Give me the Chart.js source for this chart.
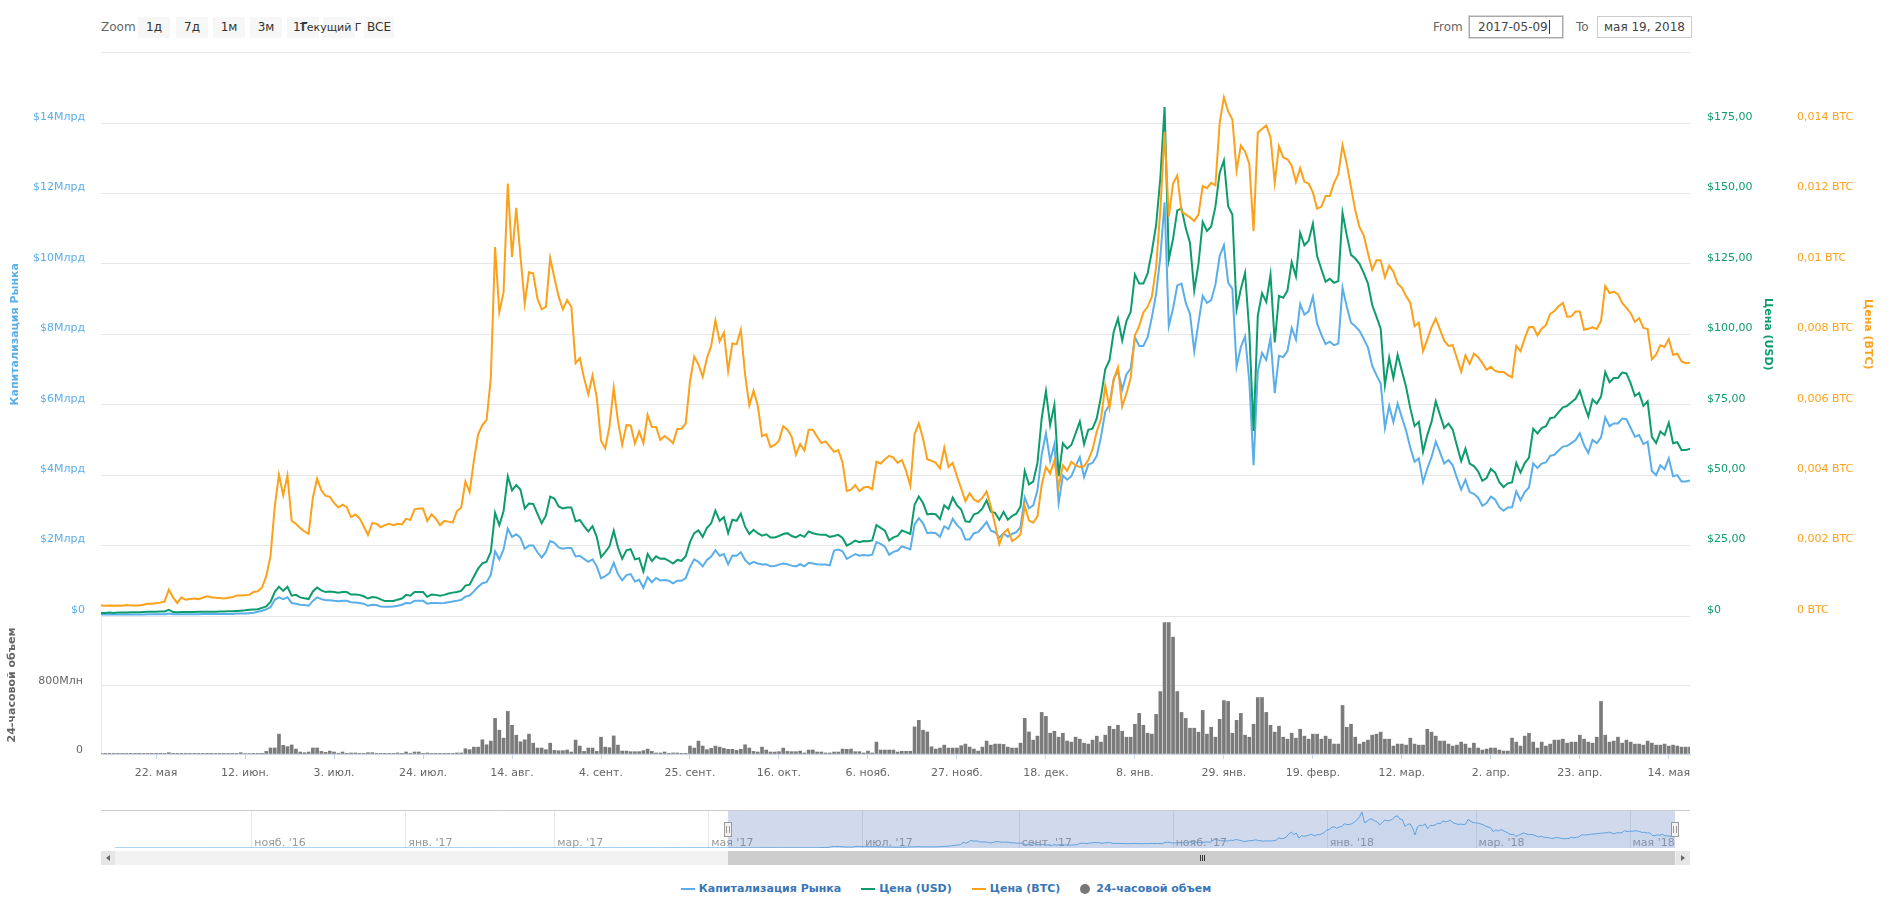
<!DOCTYPE html>
<html>
<head>
<meta charset="utf-8">
<script src="https://cdn.jsdelivr.net/npm/chart.js@4.4.0/dist/chart.umd.min.js"></script>
<style>
  body { margin: 0; background: #fff; width: 1892px; height: 902px; overflow: hidden; position: relative; font-family: "DejaVu Sans", Verdana, sans-serif; }
  canvas { position: absolute; left: 0; }
  .lbl { position: absolute; font-size: 12px; color: #666; line-height: 22px; }
  .btn { position: absolute; top: 17px; width: 32px; height: 21px; background: #f7f7f7; color: #333; font-size: 12px; line-height: 21px; text-align: center; white-space: nowrap; }
  .box { position: absolute; top: 16px; height: 22px; box-sizing: border-box; font-size: 12px; line-height: 20px; color: #444; background: #fff; white-space: nowrap; }
  #legend { position: absolute; top: 881px; left: 0; width: 1892px; display: flex; justify-content: center; font-size: 11px; font-weight: bold; color: #3a76b6; line-height: 16px; }
  #legend span.item { display: flex; align-items: center; margin: 0 10px; }
  #legend i { display: inline-block; width: 14px; height: 2px; margin-right: 4px; }
  #legend i.dot { width: 10px; height: 10px; border-radius: 5px; margin-right: 6px; }
</style>
</head>
<body>

<div class="lbl" style="left:101px;top:16px">Zoom</div>
<div class="btn" style="left:138px">1д</div>
<div class="btn" style="left:176px">7д</div>
<div class="btn" style="left:213px">1м</div>
<div class="btn" style="left:250px">3м</div>
<div class="btn" style="left:287px;text-align:left;text-indent:6px">1Г</div>
<div class="btn" style="left:323px"></div>
<div class="btn" style="left:300px;width:auto;background:none;font-size:11px">Текущий Г</div>
<div class="btn" style="left:364px;width:30px">ВСЕ</div>

<div class="lbl" style="left:1433px;top:16px">From</div>
<div class="box" style="left:1469px;width:94px;border:1px solid #a9a9a9;box-shadow:0 0 0 1px #d6d6d6;padding-left:8px">2017-05-09<span style="border-left:1px solid #333;margin-left:1px"></span></div>
<div class="lbl" style="left:1576px;top:16px">To</div>
<div class="box" style="left:1597px;width:95px;border:1px solid #cccccc;text-align:center">мая 19, 2018</div>

<canvas id="mainChart" width="1892" height="590" style="top:40px"></canvas>
<canvas id="volChart" width="1892" height="181" style="top:609px"></canvas>
<canvas id="navChart" width="1892" height="62" style="top:806px"></canvas>

<div id="legend">
  <span class="item"><i style="background:#5aaee9"></i>Капитализация Рынка</span>
  <span class="item"><i style="background:#0e9c6d"></i>Цена (USD)</span>
  <span class="item"><i style="background:#fca11b"></i>Цена (BTC)</span>
  <span class="item"><i class="dot" style="background:#777"></i>24-часовой объем</span>
</div>

<script>
// one value per day, day 0 = 9 May 2017, last = 19 May 2018
const capB = [
  0.04,0.04,0.04,0.04,0.04,0.04,0.04,0.04,0.04,0.04,
  0.04,0.05,0.05,0.05,0.05,0.05,0.07,0.05,0.05,0.05,
  0.05,0.05,0.05,0.05,0.06,0.06,0.06,0.06,0.06,0.06,
  0.06,0.06,0.07,0.07,0.07,0.08,0.09,0.12,0.15,0.19,
  0.25,0.46,0.53,0.48,0.53,0.37,0.35,0.32,0.31,0.29,
  0.43,0.53,0.48,0.45,0.45,0.43,0.42,0.43,0.43,0.39,
  0.38,0.37,0.35,0.29,0.32,0.31,0.27,0.26,0.26,0.27,
  0.29,0.32,0.37,0.36,0.43,0.43,0.43,0.35,0.37,0.37,
  0.36,0.37,0.39,0.41,0.43,0.46,0.55,0.58,0.70,0.83,
  0.93,0.96,1.17,1.84,1.61,1.89,2.48,2.25,2.32,2.22,
  1.91,2.00,2.00,1.81,1.66,1.82,2.13,2.08,1.95,1.91,
  1.93,1.93,1.69,1.71,1.62,1.54,1.61,1.41,1.07,1.13,
  1.22,1.51,1.19,1.01,1.16,1.19,0.98,1.03,0.80,1.10,
  0.96,1.08,1.01,1.02,1.00,0.93,1.00,1.00,1.08,1.39,
  1.61,1.54,1.41,1.59,1.69,1.87,1.71,1.76,1.47,1.72,
  1.71,1.81,1.59,1.47,1.54,1.49,1.46,1.47,1.41,1.42,
  1.46,1.49,1.47,1.43,1.41,1.47,1.41,1.51,1.49,1.47,
  1.46,1.46,1.44,1.86,1.89,1.84,1.62,1.69,1.76,1.71,
  1.73,1.72,1.74,2.10,2.05,1.97,1.74,1.82,1.86,1.98,
  1.94,1.89,2.60,2.78,2.63,2.35,2.37,2.35,2.25,2.55,
  2.47,2.76,2.58,2.47,2.17,2.17,2.35,2.38,2.52,2.67,
  2.42,2.38,2.23,2.35,2.25,2.33,2.38,2.52,3.36,3.06,
  3.14,3.57,4.58,5.19,4.41,4.88,3.21,3.99,3.87,3.97,
  4.25,4.51,3.95,4.30,4.35,4.55,5.09,5.80,6.00,6.73,
  6.96,6.43,6.86,7.03,7.92,7.67,7.67,7.92,8.48,9.14,
  10.20,11.75,8.23,8.73,9.39,9.44,8.89,8.58,7.52,8.33,
  9.09,8.89,8.97,9.41,10.22,10.53,9.47,9.29,7.08,7.64,
  7.94,6.66,4.28,6.96,7.47,7.27,7.89,6.33,7.39,7.35,
  7.52,8.18,7.85,8.86,8.56,8.65,9.07,8.30,7.99,7.72,
  7.79,7.69,7.74,9.32,8.78,8.33,8.23,8.10,7.87,7.62,
  7.11,6.84,6.61,5.34,5.97,5.51,6.03,5.64,5.26,4.78,
  4.38,4.48,3.80,4.19,4.51,4.95,4.65,4.33,4.43,4.28,
  3.92,3.59,3.87,3.52,3.47,3.36,3.13,3.21,3.39,3.31,
  3.09,2.99,3.08,3.09,3.54,3.29,3.52,3.65,4.33,4.20,
  4.33,4.36,4.55,4.58,4.70,4.81,4.83,4.91,5.00,5.19,
  4.85,4.63,5.00,4.91,5.07,5.64,5.39,5.47,5.47,5.61,
  5.59,5.34,5.09,5.14,4.88,4.95,4.12,4.00,4.28,4.17,
  4.48,3.97,4.00,3.82,3.82,3.85
];

const priceUsd = [
  1.1,1.1,1.2,1.1,1.2,1.2,1.2,1.3,1.3,1.3,
  1.4,1.5,1.5,1.5,1.6,1.6,2.2,1.4,1.3,1.4,
  1.4,1.4,1.4,1.5,1.5,1.5,1.5,1.5,1.6,1.6,
  1.7,1.7,1.8,1.9,2.0,2.2,2.3,2.4,2.9,3.4,
  5.0,8.5,10.4,8.9,10.4,7.2,7.5,6.6,6.3,6.0,
  8.7,10.1,9.1,8.5,8.7,8.5,8.3,8.5,8.5,7.6,
  7.6,7.5,7.0,6.2,6.7,6.6,5.9,5.3,5.3,5.3,
  5.8,6.2,7.5,7.2,8.5,8.5,8.5,6.8,7.6,7.5,
  7.2,7.5,8.0,8.3,8.5,8.9,10.8,11.1,14.0,16.8,
  18.7,19.3,22.8,36.6,32.2,37.2,49.6,44.6,46.5,44.8,
  38.2,39.9,39.8,36.3,32.9,35.7,42.4,41.7,38.9,38.2,
  38.5,38.5,33.6,34.1,31.9,30.0,31.9,28.1,20.9,22.7,
  24.7,30.3,24.3,20.3,23.3,23.7,20.1,20.5,15.8,22.0,
  19.5,21.2,20.3,20.4,19.6,18.6,19.9,19.6,21.2,26.2,
  29.4,30.4,28.1,31.3,32.9,37.4,33.8,35.1,29.4,34.2,
  33.8,36.3,31.7,29.1,30.6,29.4,28.5,29.0,27.9,27.9,
  28.4,29.1,29.4,28.4,27.9,28.8,28.1,30.0,29.4,29.0,
  28.8,28.8,28.1,28.4,28.8,27.7,25.0,25.8,26.8,26.2,
  26.6,26.5,26.8,32.3,31.3,30.3,26.8,27.9,28.4,30.4,
  29.8,29.1,39.5,42.4,40.1,36.1,36.3,36.1,34.4,39.3,
  38.0,42.0,39.3,37.8,33.6,33.4,36.1,36.6,38.2,41.0,
  37.0,36.6,34.2,37.0,34.2,35.5,36.3,38.9,51.5,46.7,
  47.7,54.3,70.2,79.8,67.8,75.0,49.6,61.3,59.4,60.7,
  64.8,69.0,61.0,66.1,66.5,70.2,77.9,87.6,90.8,100.9,
  105.6,97.8,104.7,107.9,121.2,118.0,118.0,121.6,129.4,138.7,
  155.4,180.7,126.5,133.9,144.0,144.6,137.7,132.4,115.5,125.0,
  139.9,136.7,138.3,145.3,157.3,161.7,145.5,142.5,108.9,116.1,
  121.8,100.9,65.7,106.6,114.6,111.5,121.2,97.1,113.6,113.0,
  115.5,125.6,120.6,136.0,131.6,133.2,139.3,127.8,123.1,118.7,
  119.7,118.3,118.9,143.1,135.1,128.2,126.9,125.0,121.8,118.0,
  110.4,106.3,102.0,81.9,91.7,84.5,92.7,87.0,81.3,73.7,
  67.4,68.9,58.3,64.2,68.9,76.2,71.4,66.7,68.3,66.1,
  60.4,55.0,59.4,54.1,53.2,51.3,48.0,49.0,52.2,50.9,
  47.5,45.8,47.1,47.4,54.3,50.9,54.3,56.2,66.5,64.8,
  66.7,67.4,70.2,70.5,72.4,74.1,74.6,75.9,77.1,80.0,
  75.0,70.8,76.9,75.4,77.9,86.6,83.0,84.5,84.5,86.4,
  86.1,82.6,78.1,79.2,74.6,76.2,63.6,61.4,65.5,64.2,
  68.6,61.3,61.7,58.9,58.9,59.4
];

const priceBtc = [
  0.00030,0.00029,0.00030,0.00029,0.00030,0.00029,0.00031,0.00030,0.00030,0.00030,
  0.00032,0.00035,0.00035,0.00036,0.00038,0.00041,0.00075,0.00053,0.00037,0.00053,
  0.00046,0.00048,0.00050,0.00048,0.00052,0.00056,0.00053,0.00052,0.00051,0.00050,
  0.00052,0.00053,0.00058,0.00058,0.00059,0.00060,0.00068,0.00070,0.00081,0.00113,
  0.00170,0.00310,0.00402,0.00343,0.00399,0.00270,0.00262,0.00250,0.00240,0.00233,
  0.00336,0.00390,0.00357,0.00341,0.00339,0.00321,0.00308,0.00316,0.00309,0.00281,
  0.00288,0.00278,0.00255,0.00230,0.00264,0.00262,0.00252,0.00258,0.00262,0.00258,
  0.00262,0.00260,0.00276,0.00273,0.00303,0.00305,0.00305,0.00270,0.00289,0.00277,
  0.00258,0.00270,0.00268,0.00265,0.00298,0.00307,0.00382,0.00352,0.00441,0.00516,
  0.00542,0.00557,0.00676,0.01048,0.00863,0.00919,0.01228,0.01020,0.01159,0.01020,
  0.00887,0.00976,0.00973,0.00901,0.00871,0.00878,0.01017,0.00960,0.00907,0.00871,
  0.00897,0.00878,0.00718,0.00732,0.00676,0.00630,0.00683,0.00620,0.00498,0.00476,
  0.00539,0.00648,0.00554,0.00486,0.00542,0.00541,0.00490,0.00524,0.00491,0.00571,
  0.00537,0.00537,0.00500,0.00511,0.00502,0.00491,0.00531,0.00532,0.00547,0.00666,
  0.00737,0.00714,0.00679,0.00732,0.00767,0.00840,0.00780,0.00805,0.00696,0.00774,
  0.00772,0.00813,0.00686,0.00598,0.00640,0.00597,0.00511,0.00516,0.00480,0.00486,
  0.00498,0.00539,0.00529,0.00509,0.00458,0.00488,0.00470,0.00529,0.00529,0.00509,
  0.00491,0.00496,0.00481,0.00466,0.00471,0.00436,0.00355,0.00359,0.00372,0.00354,
  0.00365,0.00367,0.00360,0.00438,0.00433,0.00445,0.00455,0.00450,0.00435,0.00443,
  0.00412,0.00370,0.00516,0.00547,0.00504,0.00445,0.00441,0.00435,0.00419,0.00478,
  0.00423,0.00435,0.00397,0.00362,0.00326,0.00349,0.00331,0.00324,0.00336,0.00354,
  0.00311,0.00260,0.00204,0.00235,0.00247,0.00213,0.00220,0.00232,0.00313,0.00271,
  0.00265,0.00283,0.00372,0.00423,0.00405,0.00441,0.00367,0.00428,0.00412,0.00438,
  0.00428,0.00423,0.00425,0.00443,0.00473,0.00524,0.00559,0.00654,0.00591,0.00673,
  0.00706,0.00595,0.00632,0.00676,0.00797,0.00823,0.00862,0.00878,0.00907,0.00990,
  0.01152,0.01375,0.01134,0.01228,0.01251,0.01149,0.01140,0.01132,0.01122,0.01140,
  0.01221,0.01215,0.01230,0.01223,0.01400,0.01473,0.01433,0.01410,0.01265,0.01336,
  0.01319,0.01284,0.01093,0.01373,0.01383,0.01393,0.01360,0.01231,0.01334,0.01302,
  0.01297,0.01279,0.01233,0.01272,0.01233,0.01228,0.01203,0.01157,0.01162,0.01193,
  0.01193,0.01230,0.01255,0.01337,0.01284,0.01218,0.01152,0.01104,0.01081,0.01030,
  0.00983,0.01010,0.01010,0.00962,0.00995,0.00978,0.00944,0.00932,0.00909,0.00889,
  0.00823,0.00833,0.00752,0.00785,0.00820,0.00845,0.00813,0.00782,0.00767,0.00769,
  0.00732,0.00694,0.00740,0.00716,0.00745,0.00735,0.00718,0.00699,0.00708,0.00696,
  0.00693,0.00693,0.00684,0.00678,0.00767,0.00752,0.00789,0.00820,0.00821,0.00797,
  0.00816,0.00826,0.00858,0.00866,0.00880,0.00889,0.00850,0.00851,0.00865,0.00865,
  0.00813,0.00816,0.00820,0.00815,0.00838,0.00937,0.00917,0.00921,0.00914,0.00889,
  0.00875,0.00860,0.00835,0.00846,0.00818,0.00815,0.00729,0.00742,0.00769,0.00764,
  0.00787,0.00742,0.00745,0.00723,0.00718,0.00719
];

// 24h volume, millions USD
const volumeM = [
  4,4,4,4,4,4,4,4,4,4,
  4,4,4,4,4,4,15,4,4,4,
  4,4,4,4,4,4,4,4,4,4,
  4,4,4,15,6,6,8,8,8,30,
  70,70,230,100,85,105,57,23,15,23,
  70,70,30,19,34,23,8,23,8,12,
  12,4,4,15,15,4,4,4,4,4,
  12,4,23,4,23,23,4,12,4,4,
  4,4,4,4,12,12,61,50,80,80,
  165,107,150,413,276,184,494,333,218,142,
  165,230,126,69,69,50,126,42,38,38,
  46,23,161,92,30,69,69,30,195,80,
  73,210,103,34,34,27,27,27,38,57,
  30,12,12,23,4,12,12,4,4,92,
  69,150,92,50,65,92,80,65,54,54,
  42,54,107,69,30,23,80,46,23,23,
  27,69,30,27,27,34,12,46,46,23,
  23,12,12,23,23,57,54,57,27,27,
  12,34,12,138,46,46,46,46,23,
  31,31,31,314,390,276,256,84,57,69,
  103,69,69,69,96,115,80,57,34,80,
  150,103,115,115,111,80,69,69,126,413,
  256,161,207,482,436,241,264,195,241,150,
  138,195,172,126,115,161,207,138,218,322,
  287,333,264,195,195,345,471,333,241,230,
  459,724,1524,1524,1355,724,482,413,299,299,
  253,505,230,310,195,402,620,609,241,390,
  471,218,195,345,655,655,482,333,253,322,
  195,172,241,184,287,207,172,230,230,172,
  207,172,115,115,563,310,345,195,115,138,
  161,218,230,253,172,172,92,115,115,103,
  184,115,103,103,287,253,207,150,150,115,
  92,103,138,115,69,126,69,46,57,69,
  69,46,34,34,184,138,92,207,241,138,
  69,138,92,115,161,161,172,126,138,138,
  218,172,138,126,195,609,218,138,150,195,
  126,161,138,115,115,103,150,126,103,103,
  115,92,103,92,80,80,80
];

// navigator history before the selected range (weekly, from day -243)
const capPreB = [
  0.005,0.005,0.005,0.005,0.005,0.005,0.006,0.006,0.006,0.006,
  0.006,0.007,0.007,0.007,0.007,0.008,0.008,0.008,0.009,0.010,
  0.012,0.015,0.015,0.018,0.020,0.020,0.022,0.025,0.025,0.028,
  0.030,0.030,0.035,0.035,0.040
];

const xTickDays = [13,34,55,76,97,118,139,160,181,202,223,244,265,286,307,328,349,370];
const xTickLabels = ['22. мая','12. июн.','3. июл.','24. июл.','14. авг.','4. сент.','25. сент.','16. окт.','6. нояб.',
  '27. нояб.','18. дек.','8. янв.','29. янв.','19. февр.','12. мар.','2. апр.','23. апр.','14. мая'];
const navTickDays = [-189,-128,-69,-8,53,115,176,237,296,357];
const navTickLabels = ["нояб. '16","янв. '17","мар. '17","мая '17","июл. '17","сент. '17","нояб. '17","янв. '18","мар. '18","мая '18"];

const CAP_COLOR = '#5aaee9';
const USD_COLOR = '#0e9c6d';
const BTC_COLOR = '#fca11b';
const LAST_DAY = priceUsd.length - 1;

Chart.defaults.font.family = '"DejaVu Sans", Verdana, sans-serif';
Chart.defaults.font.size = 11;

const pts = arr => arr.map((v, i) => ({x: i, y: v}));
const lineSet = (label, arr, axis, color, order) => ({
  label, data: pts(arr), yAxisID: axis, borderColor: color, borderWidth: 2,
  pointRadius: 0, tension: 0, fill: false, order
});
const titleFont = {size: 11, weight: 'bold'};
// invisible tick marks give the gap between labels and plot
// (ticks.padding would also pad the plot vertically)
const gapGrid = len => ({display: true, drawOnChartArea: false, drawTicks: true, tickLength: len, tickColor: 'rgba(0,0,0,0)'});

new Chart(document.getElementById('mainChart'), {
  type: 'line',
  data: {
    datasets: [
      lineSet('Капитализация Рынка', capB, 'yCap', CAP_COLOR, 3),
      lineSet('Цена (USD)', priceUsd, 'yUsd', USD_COLOR, 2),
      lineSet('Цена (BTC)', priceBtc, 'yBtc', BTC_COLOR, 1)
    ]
  },
  options: {
    responsive: false, animation: false, devicePixelRatio: 1,
    layout: {padding: {top: 12.6, bottom: 14, left: 0, right: 0}},
    plugins: {legend: {display: false}, tooltip: {enabled: false}},
    scales: {
      x: {type: 'linear', min: 0, max: LAST_DAY, display: false},
      yCap: {
        position: 'left', min: 0, max: 16,
        afterFit: s => { s.width = 101; },
        grid: {color: '#e6e6e6', drawTicks: true, tickLength: 16, tickColor: 'rgba(0,0,0,0)'},
        border: {display: false},
        ticks: {stepSize: 2, padding: 0, labelOffset: -6, color: CAP_COLOR,
          callback: v => v === 16 ? '' : (v === 0 ? '$0' : '$' + v + 'Млрд')},
        title: {display: true, text: 'Капитализация Рынка', color: CAP_COLOR, font: titleFont, padding: {top: 9, bottom: 0}}
      },
      yUsd: {
        position: 'right', weight: 0, min: 0, max: 200,
        afterFit: s => { s.width = 100; },
        grid: gapGrid(17),
        border: {display: false},
        ticks: {stepSize: 25, padding: 0, labelOffset: -6, color: USD_COLOR,
          callback: v => v === 200 ? '' : (v === 0 ? '$0' : '$' + v.toFixed(2).replace('.', ','))},
        title: {display: true, text: 'Цена (USD)', color: USD_COLOR, font: titleFont, padding: {top: 15.4, bottom: 0}}
      },
      yBtc: {
        position: 'right', weight: 1, min: 0, max: 0.016,
        afterFit: s => { s.width = 102; },
        grid: gapGrid(7),
        border: {display: false},
        ticks: {stepSize: 0.002, padding: 0, labelOffset: -6, color: BTC_COLOR,
          callback: v => {
            if (Math.abs(v - 0.016) < 1e-9) return '';
            if (v === 0) return '0 BTC';
            return String(+v.toFixed(3)).replace('.', ',') + ' BTC';
          }},
        title: {display: true, text: 'Цена (BTC)', color: BTC_COLOR, font: titleFont, padding: {top: 17.4, bottom: 0}}
      }
    }
  }
});

new Chart(document.getElementById('volChart'), {
  type: 'bar',
  data: {
    datasets: [{
      label: '24-часовой объем', data: pts(volumeM),
      backgroundColor: '#7b7b7b', borderWidth: 0, barThickness: 3
    }]
  },
  options: {
    responsive: false, animation: false, devicePixelRatio: 1,
    layout: {padding: {top: 7, bottom: 0, left: 0, right: 202}},
    plugins: {legend: {display: false}, tooltip: {enabled: false}},
    scales: {
      x: {
        type: 'linear', min: 0, max: LAST_DAY, offset: false,
        afterFit: s => { s.height = 36; },
        afterBuildTicks: s => { s.ticks = xTickDays.map(v => ({value: v})); },
        grid: {drawOnChartArea: false, drawTicks: true, tickLength: 5, color: '#ccd6eb', offset: false},
        border: {display: true, color: '#ccd6eb'},
        ticks: {autoSkip: false, maxRotation: 0, padding: 8, color: '#666',
          callback: v => xTickLabels[xTickDays.indexOf(v)]}
      },
      y: {
        position: 'left', min: 0, max: 1600,
        afterFit: s => { s.width = 101; },
        grid: {color: '#e6e6e6', drawTicks: true, tickLength: 18, tickColor: 'rgba(0,0,0,0)'},
        border: {display: true, color: '#e6e9f0'},
        ticks: {stepSize: 800, padding: 0, labelOffset: -4, color: '#666',
          callback: v => v === 1600 ? '' : (v === 0 ? '0' : '800Млн')},
        title: {display: true, text: '24-часовой объем', color: '#666', font: titleFont, padding: {top: 5.4, bottom: 0}}
      }
    }
  }
});

// navigator: mask, handles, scrollbar, month labels
const navDecor = {
  id: 'navDecor',
  beforeDatasetsDraw(chart) {
    const {ctx, chartArea: a, scales: {x}} = chart;
    ctx.save();
    ctx.strokeStyle = '#e6e6e6';
    ctx.lineWidth = 1;
    navTickDays.forEach(d => {
      const px = Math.round(x.getPixelForValue(d)) + 0.5;
      ctx.beginPath(); ctx.moveTo(px, a.top); ctx.lineTo(px, a.bottom); ctx.stroke();
    });
    ctx.restore();
  },
  afterDraw(chart) {
    const {ctx, chartArea: a, scales: {x}} = chart;
    const x0 = Math.round(x.getPixelForValue(0));
    const x1 = Math.round(x.getPixelForValue(LAST_DAY));
    ctx.save();
    ctx.fillStyle = '#999';
    ctx.font = '11px "DejaVu Sans", Verdana, sans-serif';
    ctx.textAlign = 'left';
    ctx.textBaseline = 'middle';
    navTickDays.forEach((d, i) => ctx.fillText(navTickLabels[i], x.getPixelForValue(d) + 3, a.bottom - 5));

    ctx.fillStyle = 'rgba(102,133,194,0.3)';
    ctx.fillRect(x0, a.top, x1 - x0, a.bottom - a.top);

    ctx.strokeStyle = '#cccccc';
    ctx.lineWidth = 1;
    ctx.beginPath(); ctx.moveTo(101, a.top + 0.5); ctx.lineTo(1690, a.top + 0.5); ctx.stroke();

    [x0, x1].forEach(hx => {
      ctx.fillStyle = '#f2f2f2';
      ctx.strokeStyle = '#999';
      ctx.fillRect(hx - 4, a.top + 12, 8, 15);
      ctx.strokeRect(hx - 3.5, a.top + 12.5, 7, 14);
      ctx.beginPath();
      ctx.moveTo(hx - 1.5, a.top + 16); ctx.lineTo(hx - 1.5, a.top + 23);
      ctx.moveTo(hx + 1.5, a.top + 16); ctx.lineTo(hx + 1.5, a.top + 23);
      ctx.stroke();
    });

    const sy = a.bottom + 3, sh = 14;
    ctx.fillStyle = '#f2f2f2';
    ctx.fillRect(101, sy, 1589, sh);
    ctx.fillStyle = '#cccccc';
    ctx.fillRect(x0, sy, x1 - x0, sh);
    ctx.fillStyle = '#e6e6e6';
    ctx.fillRect(101, sy, 14, sh);
    ctx.fillRect(1676, sy, 14, sh);
    ctx.fillStyle = '#666';
    ctx.beginPath();
    ctx.moveTo(110, sy + 4); ctx.lineTo(106, sy + 7); ctx.lineTo(110, sy + 10); ctx.closePath(); ctx.fill();
    ctx.beginPath();
    ctx.moveTo(1681, sy + 4); ctx.lineTo(1685, sy + 7); ctx.lineTo(1681, sy + 10); ctx.closePath(); ctx.fill();
    const gx = Math.round((x0 + x1) / 2);
    ctx.strokeStyle = '#333';
    ctx.beginPath();
    [-2, 0, 2].forEach(o => { ctx.moveTo(gx + o + 0.5, sy + 4); ctx.lineTo(gx + o + 0.5, sy + 10); });
    ctx.stroke();
    ctx.restore();
  }
};

const navData = capPreB.map((v, i) => ({x: -243 + 7 * i, y: v})).concat(pts(capB));

new Chart(document.getElementById('navChart'), {
  type: 'line',
  data: {
    datasets: [{
      data: navData, borderColor: CAP_COLOR, borderWidth: 1, pointRadius: 0,
      fill: 'origin', backgroundColor: 'rgba(90,174,233,0.06)'
    }]
  },
  options: {
    responsive: false, animation: false, devicePixelRatio: 1,
    layout: {padding: {top: 4, bottom: 20, left: 115, right: 217}},
    plugins: {legend: {display: false}, tooltip: {enabled: false}},
    scales: {
      x: {type: 'linear', min: -243, max: LAST_DAY, display: false},
      y: {min: 0, max: 12.4, display: false}
    }
  },
  plugins: [navDecor]
});
</script>
</body>
</html>
